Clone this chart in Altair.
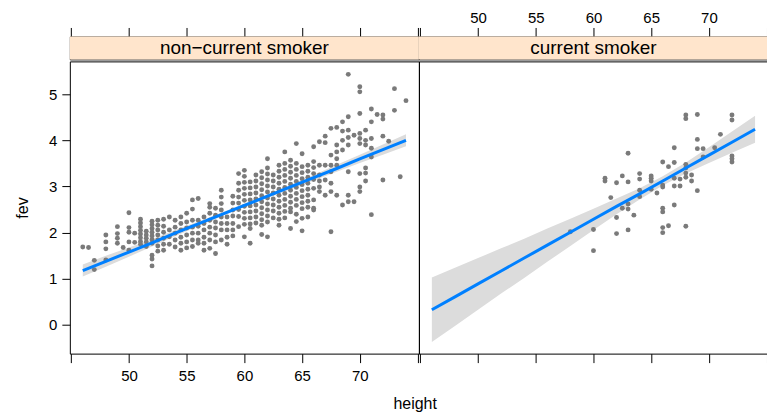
import altair as alt
import pandas as pd

# ---------------- data ----------------
nc_heights = [46, 46.5, 47, 48, 49, 49.5, 50, 50.5, 51, 51.5, 52, 52.5, 53, 53.5,
              54, 54.5, 55, 55.5, 56, 56.5, 57, 57.5, 58, 58.5, 59, 59.5, 60, 60.5,
              61, 61.5, 62, 62.5, 63, 63.5, 64, 64.5, 65, 65.5, 66, 66.5, 67, 67.5,
              68, 68.5, 69, 69.5, 70, 70.5, 71, 71.5, 72, 72.5, 73, 73.5, 74]
nc_fev = [
    [1.69], [1.68], [1.40, 1.20], [1.95, 1.80, 1.65, 1.41], [2.13, 1.98, 1.88, 1.77],
    [1.68], [2.43, 2.11, 2.01, 1.80, 1.62], [1.99, 1.79],
    [2.29, 2.21, 2.13, 2.05, 1.97, 1.89, 1.81, 1.75], [2.03, 1.95, 1.88, 1.80, 1.70],
    [2.25, 2.17, 2.09, 2.01, 1.93, 1.85, 1.77, 1.51, 1.43, 1.28],
    [2.27, 2.16, 2.06, 1.95, 1.84, 1.71, 1.60], [2.29, 2.14, 2.01, 1.88, 1.75, 1.62],
    [2.34, 2.06, 1.91, 1.75], [2.27, 2.12, 1.99, 1.84, 1.69],
    [2.34, 2.20, 2.06, 1.90, 1.77, 1.62], [2.42, 2.23, 2.10, 1.95, 1.80, 1.67],
    [2.71, 2.51, 2.27, 2.12, 1.99, 1.84, 1.70], [2.74, 2.27, 2.14, 1.99, 1.84, 1.77],
    [2.34, 2.20, 2.06, 1.90, 1.77, 1.62], [2.63, 2.55, 2.42, 2.27, 2.12, 1.99, 1.84, 1.66],
    [2.53, 2.38, 2.23, 2.10, 1.95, 1.80, 1.55], [2.92, 2.77, 2.63, 2.49, 2.34, 2.20, 2.06, 1.84],
    [2.34, 2.20, 2.06, 1.90, 1.75], [2.79, 2.64, 2.49, 2.36, 2.20, 2.06, 1.93],
    [3.28, 3.07, 2.92, 2.77, 2.64, 2.50, 2.35, 2.13],
    [3.35, 3.22, 3.09, 2.96, 2.83, 2.70, 2.57, 2.44, 2.31, 2.18, 1.91],
    [3.10, 2.97, 2.84, 2.71, 2.58, 2.45, 2.32, 2.19, 2.09, 1.77],
    [3.25, 3.12, 2.99, 2.86, 2.73, 2.60, 2.47, 2.34, 2.21],
    [3.32, 3.19, 3.06, 2.93, 2.80, 2.67, 2.54, 2.41, 2.28, 2.16, 1.96],
    [3.60, 3.40, 3.27, 3.14, 3.01, 2.88, 2.75, 2.62, 2.49, 2.36, 2.23, 1.91],
    [3.25, 3.12, 2.99, 2.86, 2.73, 2.60, 2.47, 2.32],
    [3.46, 3.33, 3.20, 3.07, 2.94, 2.81, 2.68, 2.55, 2.42, 2.29, 2.16],
    [3.75, 3.50, 3.37, 3.24, 3.11, 2.98, 2.85, 2.72, 2.59, 2.46, 2.32],
    [3.57, 3.44, 3.31, 3.18, 3.05, 2.92, 2.79, 2.66, 2.53, 2.45, 2.09],
    [3.93, 3.50, 3.37, 3.24, 3.11, 2.98, 2.85, 2.72, 2.59, 2.40, 2.24],
    [3.71, 3.43, 3.30, 3.17, 3.04, 2.91, 2.78, 2.65, 2.52, 2.31, 2.04],
    [3.46, 3.33, 3.20, 3.07, 2.94, 2.81, 2.68, 2.55, 2.34],
    [3.86, 3.54, 3.41, 3.28, 3.15, 2.96, 2.71, 2.53, 2.49],
    [3.97, 3.46, 3.25, 3.12, 2.99, 2.89], [4.09, 3.95, 3.46, 3.14, 2.81],
    [4.26, 3.68, 3.46, 3.32, 3.07, 2.89, 2.02], [4.28, 3.90, 3.75, 3.60, 3.46, 2.81],
    [4.40, 4.20, 4.00, 3.79, 2.60], [5.43, 4.51, 4.22, 4.06, 3.90, 3.32, 2.81, 2.67],
    [4.11, 2.67], [5.16, 5.05, 4.58, 4.15, 4.04, 3.93, 3.28, 2.99, 2.89],
    [4.22, 4.00, 3.90, 3.40, 3.29, 3.12], [4.68, 4.40, 4.04, 3.83, 3.64, 2.39],
    [4.56], [4.55, 4.46, 4.09, 3.14], [3.98], [5.12, 4.65], [3.21], [4.86],
]

sm_heights = [58, 60, 61, 61.5, 62, 62.5, 63, 63.5, 64, 65, 65.5, 66, 66.5, 67,
              67.5, 68, 68.5, 69, 69.5, 70.5, 71, 72]
sm_fev = [
    [2.02], [2.07, 1.61], [3.18, 3.12], [2.76], [3.08, 2.33, 1.98], [3.23, 2.53],
    [3.72, 3.10, 2.62, 2.51, 2.06], [2.38], [3.28, 3.16, 2.92, 2.78],
    [3.23, 3.18, 3.12, 2.94], [2.86], [3.53, 3.03, 2.99, 2.53, 2.45, 2.11, 2.00],
    [3.43, 2.15], [3.84, 3.52, 3.18, 3.01, 2.60], [3.16, 3.01],
    [4.55, 4.47, 3.48, 3.40, 3.29, 3.20, 2.14], [3.25, 3.12],
    [4.56, 4.02, 3.82, 2.91], [3.82, 3.64], [3.84], [4.13],
    [4.55, 4.44, 3.66, 3.60, 3.53],
]

# fitted line and confidence band, read at every 2 inches
band_heights = [46, 48, 50, 52, 54, 56, 58, 60, 62, 64, 66, 68, 70, 72, 74]
nc_fit = [1.18, 1.38, 1.58, 1.78, 1.99, 2.19, 2.39, 2.59, 2.79, 2.99, 3.19, 3.39, 3.60, 3.80, 4.00]
nc_lo = [1.05, 1.26, 1.48, 1.70, 1.92, 2.14, 2.35, 2.56, 2.75, 2.94, 3.13, 3.32, 3.51, 3.69, 3.87]
nc_hi = [1.31, 1.50, 1.68, 1.86, 2.06, 2.24, 2.43, 2.63, 2.83, 3.04, 3.25, 3.47, 3.69, 3.91, 4.13]
sm_fit = [0.33, 0.61, 0.89, 1.17, 1.45, 1.73, 2.01, 2.29, 2.57, 2.84, 3.12, 3.40, 3.68, 3.96, 4.24]
sm_lo = [-0.37, -0.02, 0.33, 0.68, 1.02, 1.37, 1.71, 2.06, 2.40, 2.72, 3.02, 3.28, 3.51, 3.73, 3.95]
sm_hi = [1.03, 1.24, 1.45, 1.66, 1.87, 2.09, 2.30, 2.52, 2.74, 2.96, 3.22, 3.52, 3.85, 4.19, 4.53]

strip_labels = ["non\u2212current smoker", "current smoker"]
x_ticks = [45, 50, 55, 60, 65, 70, 75]
y_ticks = [0, 1, 2, 3, 4, 5]

# ---------------- layout / style ----------------
XDOM = [44.88, 75.12]
YDOM = [-0.62, 5.71]
PW, PH, SH = 350, 293, 23
FONT = "Liberation Sans"
PT_COLOR = "#7a7a7a"
LINE_COLOR = "#0080ff"
BAND_COLOR = "#dcdcdc"
STRIP_FILL = "#ffe5cc"
HIDE_EDGE = "(datum.value == 45 || datum.value == 75) ? '' : datum.label"


def points_df(heights, fevs):
    rows = []
    for h, vals in zip(heights, fevs):
        for v in vals:
            rows.append({"height": h, "fev": v})
    return pd.DataFrame(rows)


def band_df(fit, lo, hi):
    return pd.DataFrame({"height": band_heights, "fit": fit, "lo": lo, "hi": hi})


xscale = alt.Scale(domain=XDOM, nice=False, zero=False)
yscale = alt.Scale(domain=YDOM, nice=False, zero=False)


def panel(pts, band, xaxis, yaxis):
    x = alt.X("height:Q", scale=xscale, axis=xaxis)
    area = alt.Chart(band).mark_area(color=BAND_COLOR, opacity=1).encode(
        x=x, y=alt.Y("lo:Q", scale=yscale, axis=yaxis), y2="hi:Q")
    dots = alt.Chart(pts).mark_circle(size=24, color=PT_COLOR, opacity=1).encode(
        x=x, y=alt.Y("fev:Q", scale=yscale, axis=yaxis))
    line = alt.Chart(band).mark_line(color=LINE_COLOR, strokeWidth=3).encode(
        x=x, y=alt.Y("fit:Q", scale=yscale, axis=yaxis))
    return alt.layer(area, dots, line).properties(width=PW, height=PH)


def strip(label, show_labels):
    df = pd.DataFrame({"x0": [XDOM[0]], "x1": [XDOM[1]]})
    axis = alt.Axis(orient="top", values=x_ticks,
                    labelExpr=HIDE_EDGE if show_labels else "''", title=None,
                    tickSize=9, labelPadding=2, domain=False, grid=False)
    rect = alt.Chart(df).mark_rect(fill=STRIP_FILL).encode(
        x=alt.X("x0:Q", scale=xscale, axis=axis), x2="x1:Q",
        y=alt.value(0), y2=alt.value(SH))
    txt = alt.Chart(df).mark_text(text=label, font=FONT, fontSize=19, color="black",
                                  baseline="middle", align="center").encode(
        x=alt.value(PW / 2), y=alt.value(SH / 2 + 0.5))
    return alt.layer(rect, txt).properties(width=PW, height=SH)


left_xaxis = alt.Axis(orient="bottom", values=x_ticks, labelExpr=HIDE_EDGE, title=None,
                      tickSize=9, labelPadding=6, domain=False, grid=False)
left_yaxis = alt.Axis(orient="left", values=y_ticks, title="fev", titleX=-47,
                      titleY=PH / 2, titleAngle=-90, titleAlign="center",
                      titleBaseline="middle", titleFontSize=16, titleFontWeight="normal",
                      tickSize=8, labelPadding=5, domain=False, grid=False)
right_xaxis = alt.Axis(orient="bottom", values=x_ticks, labelExpr="''", title=None,
                       tickSize=9, domain=False, grid=False)
right_yaxis = alt.Axis(orient="right", values=y_ticks, labels=False, title=None,
                       tickSize=5, domain=False, grid=False)

strips = alt.hconcat(strip(strip_labels[0], False), strip(strip_labels[1], True),
                     spacing=0, bounds="flush")
panels = alt.hconcat(
    panel(points_df(nc_heights, nc_fev), band_df(nc_fit, nc_lo, nc_hi), left_xaxis, left_yaxis),
    panel(points_df(sm_heights, sm_fev), band_df(sm_fit, sm_lo, sm_hi), right_xaxis, right_yaxis),
    spacing=0, bounds="flush")

chart = alt.vconcat(strips, panels, spacing=0).properties(
    padding={"left": 6, "top": 1, "right": -7, "bottom": 0},
    background="white",
    title=alt.TitleParams("height", orient="bottom", anchor="middle", font=FONT,
                          fontSize=16, fontWeight="normal", color="black", dx=21, offset=12),
).configure_view(stroke="black", strokeWidth=1).configure_axis(
    labelFont=FONT, titleFont=FONT, labelFontSize=15, labelColor="black",
    tickColor="black", titleColor="black", labelAngle=0
)

chart.save("out.html", embed_options={"renderer": "svg", "actions": False})
